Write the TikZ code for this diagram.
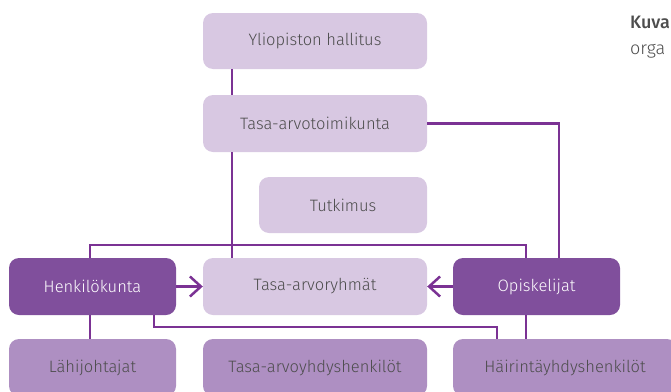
\documentclass[tikz,border=0pt]{standalone}
\usepackage{fontspec}
\setmainfont{Fira Sans Light}[BoldFont={Fira Sans Medium}]
\usetikzlibrary{arrows.meta}
\definecolor{boxlight}{HTML}{D8C8E2}
\definecolor{boxdark}{HTML}{804F9C}
\definecolor{boxmid}{HTML}{AE8FC2}
\definecolor{linecol}{HTML}{7B3294}
\definecolor{txtgray}{HTML}{4D4D4D}
\begin{document}
\begin{tikzpicture}[x=1pt,y=-1pt,
  orgbox/.style={rounded corners=10pt, minimum height=57pt, inner sep=0pt,
    font=\fontsize{16.5}{18}\selectfont, text=txtgray},
  lightbox/.style={orgbox, fill=boxlight},
  darkbox/.style={orgbox, fill=boxdark, text=white},
  midbox/.style={orgbox, fill=boxmid, text=txtgray},
  conn/.style={draw=linecol, line width=2.5pt},
  arr/.style={conn, -{Straight Barb[length=11pt,width=20pt,line width=2.5pt]}}]
\useasboundingbox (0,0) rectangle (671,391);
\clip (0,0) rectangle (671,391);
\node[lightbox, minimum width=224pt, minimum height=56pt] (hall) at (315,41) {Yliopiston hallitus};
\node[lightbox, minimum width=224pt] (toim) at (315,123.5) {Tasa-arvotoimikunta};
\node[lightbox, minimum width=168pt, minimum height=56pt] (tutk) at (343,205) {Tutkimus};
\node[darkbox, minimum width=167pt] (henk) at (92.5,286.5) {Henkilökunta};
\node[lightbox, minimum width=224pt] (ryhm) at (315,286.5) {Tasa-arvoryhmät};
\node[darkbox, minimum width=167pt] (opis) at (536.5,286.5) {Opiskelijat};
\node[midbox, minimum width=167pt] (lahi) at (92.5,367.5) {Lähijohtajat};
\node[midbox, minimum width=224pt] (tyh) at (315,367.5) {Tasa-arvoyhdyshenkilöt};
\node[midbox, minimum width=224pt] (hair) at (565,367.5) {Häirintäyhdyshenkilöt};
\node[anchor=base west, inner sep=0pt, font=\fontsize{18}{20}\selectfont\bfseries, text=txtgray] (kuva) at (630,28) {Kuva};
\node[anchor=base west, inner sep=0pt, font=\fontsize{18}{20}\selectfont, text=txtgray] (orga) at (630,54) {orga};
\coordinate (vA) at (232,0);
\coordinate (vB) at (90,0);
\coordinate (vC) at (526,0);
\coordinate (vD) at (559,0);
\coordinate (vE) at (154,0);
\coordinate (vF) at (497,0);
\coordinate (hTop) at (0,245);
\coordinate (hBot) at (0,327);
\draw[conn] (hall.south -| vA) -- (toim.north -| vA);
\draw[conn] (toim.south -| vA) -- (ryhm.north -| vA);
\draw[conn] (toim.east) -| (opis.north -| vD);
\draw[conn] (henk.north -| vB) -- (vB |- hTop) -- (vC |- hTop) -- (opis.north -| vC);
\draw[arr] (henk.east) -- (ryhm.west);
\draw[arr] (opis.west) -- (ryhm.east);
\draw[conn] (henk.south -| vB) -- (lahi.north -| vB);
\draw[conn] (henk.south -| vE) -- (vE |- hBot) -- (vF |- hBot) -- (hair.north -| vF);
\draw[conn] (opis.south -| vC) -- (hair.north -| vC);
\end{tikzpicture}
\end{document}
